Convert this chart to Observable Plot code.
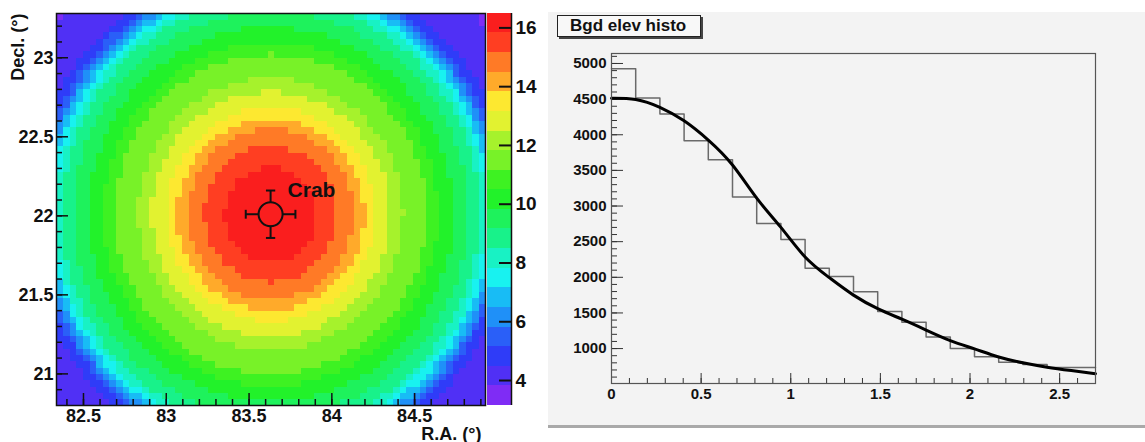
<!DOCTYPE html>
<html>
<head>
<meta charset="utf-8">
<script src="https://cdn.jsdelivr.net/npm/d3@7"></script>
<script src="https://cdn.jsdelivr.net/npm/@observablehq/plot@0.6"></script>
<style>
  html, body { margin: 0; padding: 0; background: #fff; }
  #root { position: relative; width: 1145px; height: 442px; overflow: hidden; background: #fff;
          font-family: "Liberation Sans", Arial, Helvetica, sans-serif; }
  .abs { position: absolute; }
  #title { left: 557px; top: 15px; width: 130px; height: 20px; background: #f8f8f8;
           border: 1px solid #222; box-shadow: 2px 2px 0 #444; font-weight: bold; font-size: 17px;
           line-height: 20px; padding-left: 12px; box-sizing: content-box; color: #111; white-space: nowrap; }
</style>
</head>
<body>
<div id="root">
  <div class="abs" style="left:548px;top:12px;width:597px;height:413px;background:#f3f3f3"></div>
  <div class="abs" style="left:548px;top:425px;width:597px;height:3px;background:#a9a9a9"></div>
  <div id="heat" class="abs" style="left:0;top:0"></div>
  <div id="cbar" class="abs" style="left:480px;top:0"></div>
  <div id="hist" class="abs" style="left:548px;top:0"></div>
  <div id="title" class="abs">Bgd elev histo</div>
</div>
<script>
// ---------------- data: sky map ----------------
const raRange = [82.337, 84.928];
const decRange = [20.80, 23.28];
const nRA = 65;
const nDec = 62;
const crab = {ra: 83.63, dec: 22.01, err: 0.15, name: "Crab"};
// colour-band boundaries of the z axis (20 bands)
const levels = [3.15, 3.82, 4.48, 5.15, 5.82, 6.49, 7.15, 7.82, 8.49, 9.16, 9.82,
                10.49, 11.16, 11.83, 12.49, 13.16, 13.83, 14.49, 15.16, 15.83, 16.49];
// distance from the source (deg, Dec offsets weighted by decWeight) where the map drops below levels[1..19]
const contourRadius = [1.70, 1.47, 1.42, 1.39, 1.36, 1.33, 1.30, 1.26, 1.19, 1.10,
                       1.01, 0.94, 0.80, 0.72, 0.63, 0.565, 0.50, 0.40, 0.28];
const decWeight = 0.93;
const raTicks = [82.5, 83, 83.5, 84, 84.5];
const decTicks = [21, 21.5, 22, 22.5, 23];
const colorbarTicks = [4, 6, 8, 10, 12, 14, 16];

// ---------------- data: background elevation histogram ----------------
const binWidth = 0.135;
const histCounts = [4925, 4515, 4290, 3915, 3648, 3128, 2755, 2530, 2128, 2010,
                    1797, 1520, 1370, 1163, 1000, 885, 808, 778, 736, 736];
const fitX = [0, 0.135, 0.27, 0.405, 0.54, 0.675, 0.81, 0.945, 1.08, 1.215, 1.35,
              1.485, 1.62, 1.755, 1.89, 2.025, 2.16, 2.295, 2.43, 2.565, 2.7];
const fitY = [4513, 4495, 4385, 4195, 3925, 3575, 3110, 2700, 2285, 1995, 1750,
              1560, 1412, 1260, 1112, 995, 882, 800, 738, 691, 648];
const histXTicks = [0, 0.5, 1, 1.5, 2, 2.5];
const histYTicks = [1000, 1500, 2000, 2500, 3000, 3500, 4000, 4500, 5000];
const histXRange = [0, 2.7];
const histYRange = [510, 5140];

// ---------------- styles ----------------
const FONT = '"Liberation Sans", Arial, Helvetica, sans-serif';
const palette = ["#7f2cf5", "#5030f5", "#2f3cf8", "#2a5ff8", "#1f90f8", "#18bcf5", "#18f2f0",
                 "#18f2c4", "#18f28a", "#1ef25c", "#22f22a", "#3ef222", "#78f228", "#a6f22c",
                 "#e2f230", "#fde830", "#ffaa2a", "#ff7a26", "#ff3e22", "#fa1e1e"];
const colorScale = {type: "threshold", domain: levels.slice(1, -1), range: palette};

// ---------------- left: sky map ----------------
const cells = [];
const dRA = (raRange[1] - raRange[0]) / nRA;
const dDec = (decRange[1] - decRange[0]) / nDec;
for (let i = 0; i < nRA; i++) {
  for (let j = 0; j < nDec; j++) {
    const x = raRange[0] + (i + 0.5) * dRA;
    const y = decRange[0] + (j + 0.5) * dDec;
    const r = Math.hypot(x - crab.ra, (y - crab.dec) * decWeight);
    const band = contourRadius.filter(c => c >= r).length;
    cells.push({x, y, z: (levels[band] + levels[band + 1]) / 2});
  }
}
const HW = 560, HH = 442, HML = 56, HMR = 75, HMT = 13, HMB = 37;
const hIW = HW - HML - HMR, hIH = HH - HMT - HMB;
const raMinor = d3.range(824, 850).map(v => v / 10).filter(v => v > raRange[0] && v < raRange[1]);
const decMinor = d3.range(208, 233).map(v => v / 10).filter(v => v > decRange[0] && v < decRange[1]);
const armIn = 0.072, cap = 0.028;
const arms = [
  {x1: crab.ra - crab.err, x2: crab.ra - armIn, y1: crab.dec, y2: crab.dec},
  {x1: crab.ra + armIn, x2: crab.ra + crab.err, y1: crab.dec, y2: crab.dec},
  {x1: crab.ra, x2: crab.ra, y1: crab.dec - crab.err, y2: crab.dec - armIn},
  {x1: crab.ra, x2: crab.ra, y1: crab.dec + armIn, y2: crab.dec + crab.err},
  {x1: crab.ra - crab.err, x2: crab.ra - crab.err, y1: crab.dec - cap, y2: crab.dec + cap},
  {x1: crab.ra + crab.err, x2: crab.ra + crab.err, y1: crab.dec - cap, y2: crab.dec + cap},
  {x1: crab.ra - cap, x2: crab.ra + cap, y1: crab.dec - crab.err, y2: crab.dec - crab.err},
  {x1: crab.ra - cap, x2: crab.ra + cap, y1: crab.dec + crab.err, y2: crab.dec + crab.err}
];

const heat = Plot.plot({
  width: HW, height: HH,
  marginLeft: HML, marginRight: HMR, marginTop: HMT, marginBottom: HMB,
  x: {domain: raRange, axis: null},
  y: {domain: decRange, axis: null},
  color: colorScale,
  style: {background: "transparent", fontFamily: FONT, color: "#111"},
  marks: [
    Plot.raster(cells, {x: "x", y: "y", fill: "z", width: nRA, height: nDec,
      x1: raRange[0], x2: raRange[1], y1: decRange[0], y2: decRange[1], imageRendering: "pixelated"}),
    Plot.ruleX(raMinor, {insetTop: hIH - 6, stroke: "#111", strokeWidth: 1.5}),
    Plot.ruleX(raTicks, {insetTop: hIH - 12, stroke: "#111", strokeWidth: 1.5}),
    Plot.ruleY(decMinor, {insetRight: hIW - 6, stroke: "#111", strokeWidth: 1.5}),
    Plot.ruleY(decTicks, {insetRight: hIW - 12, stroke: "#111", strokeWidth: 1.5}),
    Plot.frame({stroke: "#111", strokeWidth: 1.5}),
    Plot.link(arms, {x1: "x1", x2: "x2", y1: "y1", y2: "y2", stroke: "#111", strokeWidth: 2}),
    Plot.dot([crab], {x: "ra", y: "dec", r: 12, stroke: "#111", strokeWidth: 2, fill: "none"}),
    Plot.text([crab], {x: "ra", y: "dec", text: "name", dx: 17, dy: -24, textAnchor: "start",
      fontSize: 21, fontWeight: "bold", fill: "#111"}),
    Plot.axisX({ticks: raTicks, tickSize: 0, tickPadding: 4, tickFormat: d => String(d),
      fontSize: 18, fontWeight: "bold", label: null}),
    Plot.axisY({ticks: decTicks, tickSize: 0, tickPadding: 3, tickFormat: d => String(d),
      fontSize: 18, fontWeight: "bold", label: null}),
    Plot.text(["R.A. (°)"], {frameAnchor: "bottom-right", text: d => d, dx: -4, dy: 34,
      textAnchor: "end", fontSize: 18, fontWeight: "bold", fill: "#111"}),
    Plot.text(["Decl. (°)"], {frameAnchor: "top-left", text: d => d, dx: -45, dy: 0,
      rotate: -90, textAnchor: "end", fontSize: 18, fontWeight: "bold", fill: "#111"})
  ]
});
document.getElementById("heat").appendChild(heat);

// ---------------- colour bar ----------------
const bands = palette.map((c, k) => ({lo: levels[k], hi: levels[k + 1], z: (levels[k] + levels[k + 1]) / 2}));
const CW = 80, CML = 7, CMR = 49;
const cbar = Plot.plot({
  width: CW, height: HH,
  marginLeft: CML, marginRight: CMR, marginTop: HMT, marginBottom: HMB,
  x: {domain: [0, 1], axis: null},
  y: {domain: [levels[0], levels[levels.length - 1]], axis: null},
  color: colorScale,
  style: {background: "transparent", fontFamily: FONT, color: "#111"},
  marks: [
    Plot.rect(bands, {x1: 0, x2: 1, y1: "lo", y2: "hi", fill: "z", shapeRendering: "crispEdges"}),
    Plot.ruleY(colorbarTicks, {insetLeft: (CW - CML - CMR) - 12, stroke: "#111", strokeWidth: 2}),
    Plot.ruleX([1], {stroke: "#111", strokeWidth: 1.5}),
    Plot.axisY({anchor: "right", ticks: colorbarTicks, tickSize: 0, tickPadding: 4,
      tickFormat: d => String(d), fontSize: 19, fontWeight: "bold", label: null})
  ]
});
document.getElementById("cbar").appendChild(cbar);

// ---------------- right: histogram + fit ----------------
const histPts = histCounts.map((c, i) => ({x: i * binWidth, y: c}));
histPts.push({x: histCounts.length * binWidth, y: histCounts[histCounts.length - 1]});
const fitPts = fitX.map((x, i) => ({x, y: fitY[i]}));
const RW = 597, RH = 442, RML = 63, RMR = 50, RMT = 53, RMB = 59;
const rIW = RW - RML - RMR, rIH = RH - RMT - RMB;
const hxMinor = d3.range(0, 28).map(v => v / 10).filter(v => v <= histXRange[1]);
const hyMinor = d3.range(6, 52).map(v => v * 100).filter(v => v > histYRange[0] && v < histYRange[1]);

const hist = Plot.plot({
  width: RW, height: RH,
  marginLeft: RML, marginRight: RMR, marginTop: RMT, marginBottom: RMB,
  x: {domain: histXRange, axis: null},
  y: {domain: histYRange, axis: null},
  style: {background: "transparent", fontFamily: FONT, color: "#111"},
  marks: [
    Plot.ruleX(hxMinor, {insetTop: rIH - 5, stroke: "#333", strokeWidth: 1}),
    Plot.ruleX(histXTicks, {insetTop: rIH - 10, stroke: "#333", strokeWidth: 1}),
    Plot.ruleY(hyMinor, {insetRight: rIW - 6, stroke: "#333", strokeWidth: 1}),
    Plot.ruleY(histYTicks, {insetRight: rIW - 12, stroke: "#333", strokeWidth: 1}),
    Plot.line(histPts, {x: "x", y: "y", curve: "step-after", stroke: "#6a6a6a", strokeWidth: 1.5}),
    Plot.line(fitPts, {x: "x", y: "y", curve: "natural", stroke: "#000", strokeWidth: 3}),
    Plot.frame({stroke: "#555", strokeWidth: 1.2}),
    Plot.axisX({ticks: histXTicks, tickSize: 0, tickPadding: 5, tickFormat: d => String(d),
      fontSize: 15, fontWeight: "bold", label: null}),
    Plot.axisY({ticks: histYTicks, tickSize: 0, tickPadding: 5, tickFormat: d => String(d),
      fontSize: 15, fontWeight: "bold", label: null})
  ]
});
document.getElementById("hist").appendChild(hist);
</script>
</body>
</html>
